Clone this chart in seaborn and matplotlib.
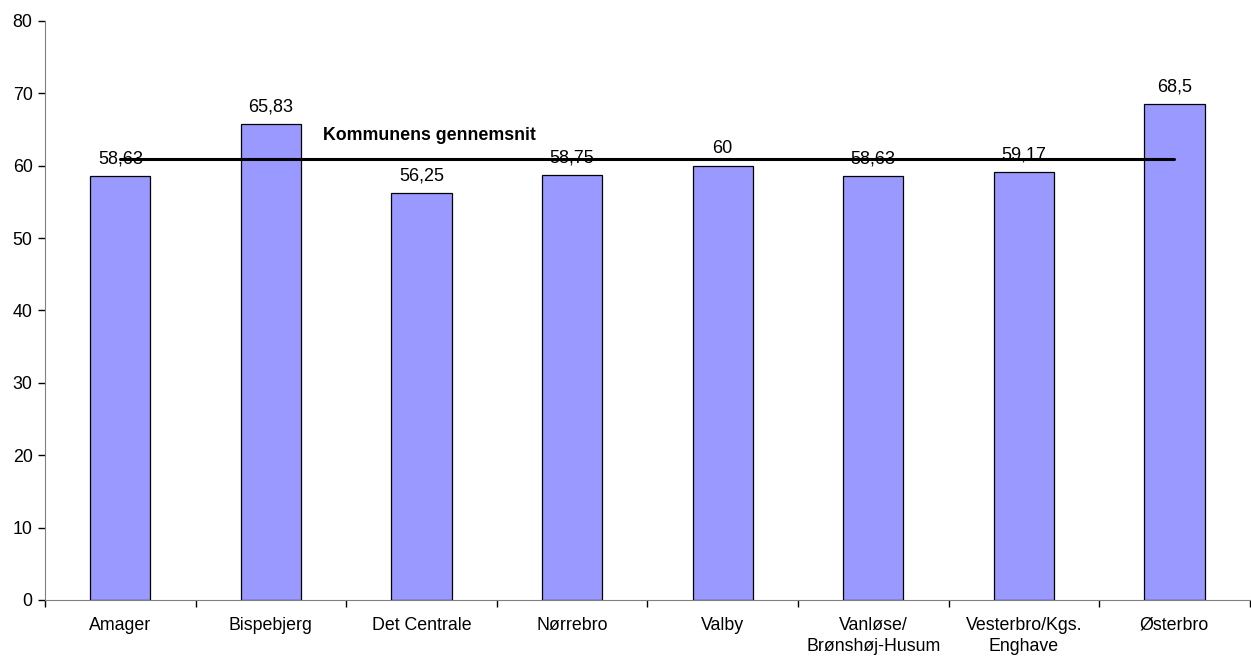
import numpy as np
import pandas as pd
import matplotlib
matplotlib.use("Agg")
import matplotlib.pyplot as plt
import seaborn as sns

# Data
districts = ["Amager", "Bispebjerg", "Det Centrale", "Nørrebro", "Valby",
             "Vanløse/\nBrønshøj-Husum", "Vesterbro/Kgs.\nEnghave", "Østerbro"]
values = [58.63, 65.83, 56.25, 58.75, 60, 58.63, 59.17, 68.5]
value_labels = ["58,63", "65,83", "56,25", "58,75", "60", "58,63", "59,17", "68,5"]
average = 61.0
average_label = "Kommunens gennemsnit"

df = pd.DataFrame({"Bydel": districts, "Score": values})

sns.set_style("white")
plt.rcParams["font.family"] = ["Liberation Sans", "DejaVu Sans"]
plt.rcParams["text.color"] = "black"
plt.rcParams["xtick.color"] = "black"
plt.rcParams["ytick.color"] = "black"

fig = plt.figure(figsize=(12.51, 6.56), dpi=100)
ax = fig.add_axes([0.036, 0.0854, 0.963, 0.8826])

sns.barplot(data=df, x="Bydel", y="Score", color="#9999FF", saturation=1,
            edgecolor="black", linewidth=0.9, width=0.4, ax=ax)

# value labels above the bars
for i, (v, lab) in enumerate(zip(values, value_labels)):
    ax.annotate(lab, (i, v), xytext=(0, 6), textcoords="offset points",
                ha="center", va="bottom", fontsize=13)

# municipal average line
ax.plot([0, len(districts) - 1], [average, average], color="black", linewidth=2.2)
ax.text(2.05, average + 2.0, average_label, ha="center", va="bottom",
        fontsize=12.8, fontweight="bold")

ax.set_xlim(-0.5, len(districts) - 0.5)
ax.set_ylim(0, 80)
ax.set_yticks(np.arange(0, 81, 10))
ax.set_xlabel("")
ax.set_ylabel("")

# tick marks between categories, labels centered
ax.set_xticks(np.arange(len(districts)))
ax.set_xticklabels(districts, linespacing=1.35)
ax.set_xticks(np.arange(-0.5, len(districts), 1), minor=True)
ax.tick_params(axis="x", which="major", bottom=True, length=0, labelsize=12.8, pad=12)
ax.tick_params(axis="x", which="minor", bottom=True, length=5, width=1, color="black", direction="out")
ax.tick_params(axis="y", left=True, length=5, width=1, color="black", direction="out",
               labelsize=12.8, pad=4)

for s in ["top", "right"]:
    ax.spines[s].set_visible(False)
ax.spines["left"].set_color("#808080")
ax.spines["bottom"].set_color("#808080")

fig.savefig("out.png", dpi=100)
